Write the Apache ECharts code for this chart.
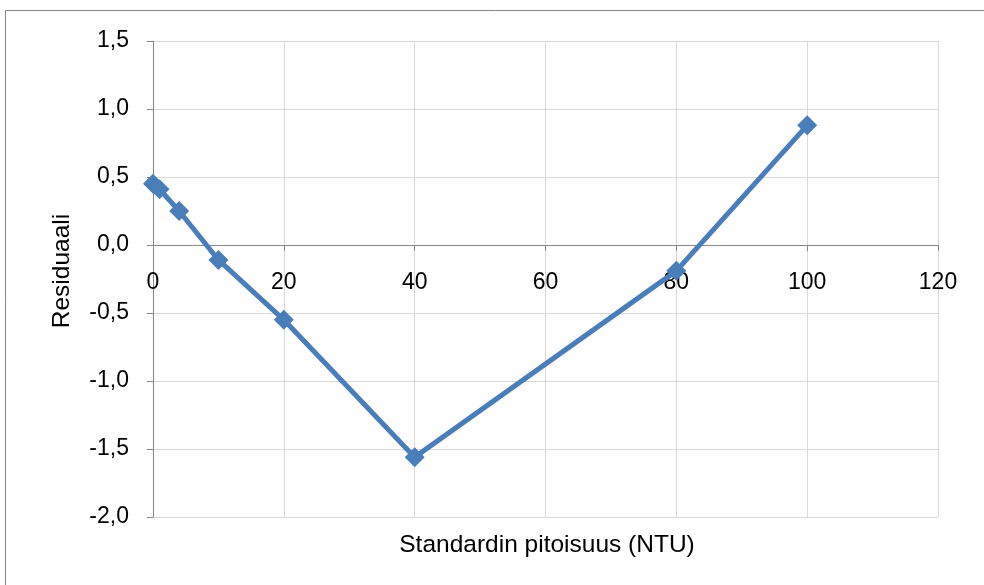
<!DOCTYPE html>
<html>
<head>
<meta charset="utf-8">
<script src="https://cdn.jsdelivr.net/npm/echarts@6/dist/echarts.min.js"></script>
<style>
  html, body { margin: 0; padding: 0; background: #fff; }
  #chart { width: 984px; height: 585px; }
</style>
</head>
<body>
<div id="chart"></div>
<script>
// Residuals of the calibration fit against standard concentration
const concentrations = [0, 1, 4, 10, 20, 40, 80, 100];
const residuals = [0.45, 0.41, 0.25, -0.11, -0.55, -1.56, -0.19, 0.88];

const xTitle = 'Standardin pitoisuus (NTU)';
const yTitle = 'Residuaali';

const fontFamily = '"Liberation Sans", Arial, sans-serif';
const lineColor = '#4A7EBB';

const gridTop = 41, gridHeight = 476;
const yMin = -2, yMax = 1.5;
// the category axis sits on the zero line, so shift it up from the grid bottom
const zeroOffset = -gridHeight * (0 - yMin) / (yMax - yMin);

const chart = echarts.init(document.getElementById('chart'), null, { renderer: 'canvas' });

const fmt = v => v.toFixed(1).replace('.', ',');

chart.setOption({
  animation: false,
  grid: { left: 153, top: gridTop, width: 785, height: gridHeight, containLabel: false },
  xAxis: {
    type: 'value',
    min: 0, max: 120, interval: 20,
    offset: zeroOffset,
    axisLine: { onZero: false, lineStyle: { color: '#868686', width: 1 } },
    axisTick: { show: true, inside: false, length: 6, lineStyle: { color: '#868686' } },
    axisLabel: { color: '#000', fontSize: 23, fontFamily, margin: 26 },
    splitLine: { show: true, lineStyle: { color: '#d9d9d9', width: 1 } }
  },
  yAxis: {
    type: 'value',
    min: yMin, max: yMax, interval: 0.5,
    axisLine: { show: true, onZero: false, lineStyle: { color: '#868686', width: 1 } },
    axisTick: { show: true, length: 6, lineStyle: { color: '#868686' } },
    axisLabel: { color: '#000', fontSize: 23, fontFamily, margin: 24, padding: [6, 0, 0, 0], formatter: fmt },
    splitLine: { show: true, lineStyle: { color: '#d9d9d9', width: 1 } }
  },
  graphic: [
    {
      type: 'rect', silent: true, z: -1,
      shape: { x: 5.5, y: 10.5, width: 1000, height: 600 },
      style: { fill: 'none', stroke: '#868686', lineWidth: 1 }
    },
    {
      type: 'text', x: 547, y: 545,
      style: { text: xTitle, font: '24.5px ' + fontFamily, fill: '#000', textAlign: 'center', textVerticalAlign: 'middle' }
    },
    {
      type: 'text', x: 62, y: 271, rotation: Math.PI / 2,
      style: { text: yTitle, font: '24.5px ' + fontFamily, fill: '#000', textAlign: 'center', textVerticalAlign: 'middle' }
    }
  ],
  series: [{
    type: 'line',
    data: concentrations.map((c, i) => [c, residuals[i]]),
    symbol: 'diamond',
    symbolSize: 20,
    lineStyle: { color: lineColor, width: 5 },
    itemStyle: { color: lineColor },
    z: 5
  }]
});
</script>
</body>
</html>
